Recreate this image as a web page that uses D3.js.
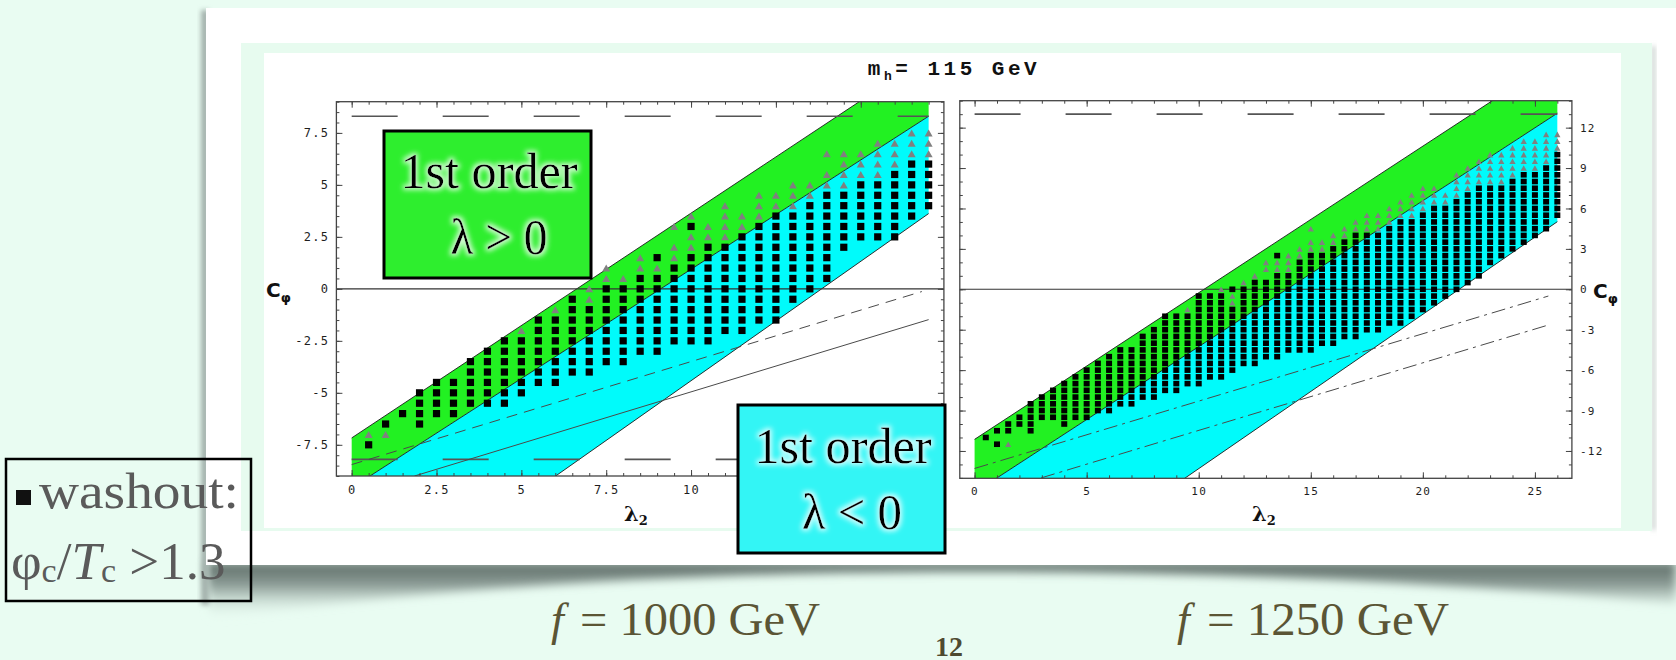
<!DOCTYPE html>
<html><head><meta charset="utf-8">
<script src="https://cdn.jsdelivr.net/npm/d3@7"></script>
<style>body{margin:0;background:#e9fcf2;}svg{display:block}</style>
</head><body>
<svg id="c" width="1676" height="660"></svg>
<script>
// ---------------- DATA ----------------
const title = ["m", "h", "= 115 GeV"];
const captions = [["f", "= 1000 GeV"], ["f", "= 1250 GeV"]];
const pageNumber = "12";

// left panel (f = 1000 GeV)
const leftXTicks = [0, 2.5, 5, 7.5, 10, 12.5, 15];
const leftXTickLabels = ["0", "2.5", "5", "7.5", "10", "12.5", "15"];
const leftYTicks = [-7.5, -5, -2.5, 0, 2.5, 5, 7.5];
const leftYTickLabels = ["-7.5", "-5", "-2.5", "0", "2.5", "5", "7.5"];
const leftGreenTop = [[0, -7.17], [17, 11.21]];
const leftGreenLow = [[0.54, -9], [17, 8.3]];
const leftCyanLow = [[6.01, -9], [17, 3.62]];
const leftDashed = [[0, -8.45], [16.8, -0.13]];
const leftSolid = [[1.85, -9], [17, -1.48]];
const leftHoriz = [8.3, -8.2];
const leftX = [0.5,1,1.5,2,2.5,3,3.5,4,4.5,5,5.5,6,6.5,7,7.5,8,8.5,9,9.5,10,10.5,11,11.5,12,12.5,13,13.5,14,14.5,15,15.5,16,16.5,17];
const leftSqLo = [-7.5,-6.5,-6,-6.5,-6,-6,-5.5,-5.5,-5.5,-5,-4.5,-4.5,-4,-4,-3.5,-3.5,-3,-3,-2.5,-2.5,-2.5,-2,-2,-1.5,-1.5,-0.5,0,0.5,2,2.5,2.5,2.5,3.5,4];
const leftSqHi = [-7.5,-6.5,-6,-5,-4.5,-4.5,-3.5,-3,-2.5,-2.5,-1.5,-1.5,-0.5,-1,0,0,0.5,0.5,1,1.5,2,2,2.5,3,3.5,3.5,4,4.5,4.5,5,5,5.5,6,6];
const leftTri = [[-7],[-7],[],[],[],[],[],[],[],[-2],[],[-1],[],[-0.5,0],[0.5,1],[0.5],[1,1.5],[1],[1.5,2,3],[2,2.5,3.5],[2.5,3],[2.5,3,3.5,4],[3,3.5],[3.5,4,4.5],[4,4.5],[4,4.5,5],[4.5,5],[5,5.5,6.5],[5,5.5,6,6.5],[5.5,6,6.5],[5.5,6,6.5,7],[6,6.5,7],[6.5,7,7.5],[6.5,7,7.5]];
const leftSqExtra = [[9, 1.5], [10, 3]];

// right panel (f = 1250 GeV)
const rightXTicks = [0, 5, 10, 15, 20, 25];
const rightXTickLabels = ["0", "5", "10", "15", "20", "25"];
const rightYTicks = [-12, -9, -6, -3, 0, 3, 6, 9, 12];
const rightYTickLabels = ["-12", "-9", "-6", "-3", "0", "3", "6", "9", "12"];
const rightGreenTop = [[0, -11.14], [23.1, 14]];
const rightGreenLow = [[1.0, -14], [26, 13.07]];
const rightCyanLow = [[9.4, -14], [26, 5.02]];
const rightDashDot1 = [[0, -13.3], [25.6, -0.5]];
const rightDashDot2 = [[2.97, -14], [25.6, -2.65]];
const rightHoriz = [13];
const rightX = [0.5,1,1.5,2,2.5,3,3.5,4,4.5,5,5.5,6,6.5,7,7.5,8,8.5,9,9.5,10,10.5,11,11.5,12,12.5,13,13.5,14,14.5,15,15.5,16,16.5,17,17.5,18,18.5,19,19.5,20,20.5,21,21.5,22,22.5,23,23.5,24,24.5,25,25.5,26];
const rightSqLo = [-11,-10.5,-10.5,-10,-10.5,-9.5,-9.5,-10,-9.5,-9.5,-9,-9,-8.5,-8.5,-8,-8,-7.5,-7.5,-7,-7,-6.5,-6.5,-6,-5.5,-5.5,-5,-5,-4.5,-4.5,-4.5,-4,-4,-3.5,-3.5,-3,-3,-2.5,-2.5,-2,-1.5,-1,-0.5,0,0.5,1,2,2.5,3,3.5,4,4.5,5.5];
const rightSqHi = [-11,-10.5,-10,-9.5,-8.5,-8,-7.5,-7,-6.5,-6,-5.5,-5,-4.5,-4.5,-3.5,-3,-2,-2,-2,-0.5,-0.5,-0.5,-1.5,0,0.5,0.5,1,1,2,2.5,2.5,3,3.5,4,4,4,4.5,5,5,5.5,6,6,6.5,7,7.5,7.5,7.5,8,8.5,8.5,9,10];
const rightTriLo = [null,null,-11.5,null,null,null,null,null,null,null,null,null,null,null,null,null,null,null,-1.5,null,null,0,-1,0.5,1,1.5,1.5,1.5,2.5,3,3,3.5,4,4.5,4.5,4.5,5,5.5,5.5,6,6.5,6.5,7,7.5,8,8,8,8.5,9,9,9.5,10.5];
const rightTriHi = [null,null,-11.5,null,null,null,null,null,null,null,null,null,null,null,null,null,null,null,-1.5,null,null,0,-0.5,0.5,1,2,2,2.5,3,3.5,3.5,4,4.5,5,5.5,5.5,6,6.5,7,7.5,7.5,7,8.5,9,9.5,10,10,10.5,11,11,11.5,11.5];
const rightSqExtra = [[1, -11.5], [11.5, 0], [13.5, 2.5]];
const rightTriExtra = [[15, 4.5]];

// ---------------- DRAWING ----------------
const svg = d3.select("#c");
const defs = svg.append("defs");
const glow = defs.append("filter").attr("id", "glow").attr("x", "-20%").attr("y", "-30%").attr("width", "140%").attr("height", "160%");
glow.append("feMorphology").attr("in", "SourceAlpha").attr("operator", "dilate").attr("radius", 1.5).attr("result", "d");
glow.append("feGaussianBlur").attr("in", "d").attr("stdDeviation", 2.5).attr("result", "b");
glow.append("feFlood").attr("flood-color", "#ffffff").attr("flood-opacity", 0.75);
glow.append("feComposite").attr("in2", "b").attr("operator", "in").attr("result", "g");
const gm = glow.append("feMerge"); gm.append("feMergeNode").attr("in", "g"); gm.append("feMergeNode").attr("in", "SourceGraphic");
defs.append("filter").attr("id", "blur6").attr("x", "-10%").attr("y", "-50%").attr("width", "120%").attr("height", "200%")
  .append("feGaussianBlur").attr("stdDeviation", 5);
defs.append("filter").attr("id", "blur2").attr("x", "-50%").attr("y", "-5%").attr("width", "200%").attr("height", "110%")
  .append("feGaussianBlur").attr("stdDeviation", 2.5);
const sg = defs.append("linearGradient").attr("id", "shadowGrad").attr("x1", 0).attr("y1", 0).attr("x2", 0).attr("y2", 1);
sg.append("stop").attr("offset", "0").attr("stop-color", "#5c6b66");
sg.append("stop").attr("offset", "0.4").attr("stop-color", "#8c9c96");
sg.append("stop").attr("offset", "1").attr("stop-color", "#e9fcf2").attr("stop-opacity", 0);

svg.append("rect").attr("width", 1676).attr("height", 660).attr("fill", "#e9fcf2");
// card shadows
svg.append("path").attr("d", "M206,562 L1676,562 L1676,604 Q1320,570 940,572 Q520,574 210,620 Z")
  .attr("fill", "url(#shadowGrad)").attr("filter", "url(#blur6)");
svg.append("rect").attr("x", 201).attr("y", 10).attr("width", 8).attr("height", 595).attr("fill", "#a3b1ac").attr("filter", "url(#blur2)");
svg.append("rect").attr("x", 206).attr("y", 8).attr("width", 1470).attr("height", 557).attr("fill", "#ffffff");
// inner image
svg.append("rect").attr("x", 1652).attr("y", 46).attr("width", 3).attr("height", 484).attr("fill", "#b9c4c0").attr("filter", "url(#blur2)");
svg.append("rect").attr("x", 241).attr("y", 43).attr("width", 1411).attr("height", 488).attr("fill", "#e7fbef");
svg.append("rect").attr("x", 264).attr("y", 53).attr("width", 1357).attr("height", 475).attr("fill", "#ffffff");

const seg = (s, xv) => s[0][1] + (s[1][1] - s[0][1]) * (xv - s[0][0]) / (s[1][0] - s[0][0]);

function panel(cfg, id) {
  const x = d3.scaleLinear().domain(cfg.xd).range(cfg.xr);
  const y = d3.scaleLinear().domain(cfg.yd).range(cfg.yr);
  const g = svg.append("g");
  defs.append("clipPath").attr("id", "clip" + id).append("rect")
    .attr("x", cfg.xr[0]).attr("y", cfg.yr[1]).attr("width", cfg.xr[1] - cfg.xr[0]).attr("height", cfg.yr[0] - cfg.yr[1]);
  const pg = g.append("g").attr("clip-path", `url(#clip${id})`);
  const line = d3.line().x(d => x(d[0])).y(d => y(d[1]));
  const xe = cfg.xEnd;
  const band = (a, b) => [[0, seg(a, 0)], [xe, seg(a, xe)], [xe, seg(b, xe)], [0, seg(b, 0)]];
  pg.append("path").attr("d", line(band(cfg.greenTop, cfg.greenLow)) + "Z").attr("fill", "#22f122");
  pg.append("path").attr("d", line(band(cfg.greenLow, cfg.cyanLow)) + "Z").attr("fill", "#00fbfb");
  [cfg.greenTop, cfg.greenLow, cfg.cyanLow].forEach(s => {
    pg.append("path").attr("d", line([[0, seg(s, 0)], [xe, seg(s, xe)]])).attr("stroke", "#1a1a1a").attr("stroke-width", 0.9).attr("fill", "none");
  });
  cfg.horiz.forEach(h => pg.append("path").attr("d", line([[0, h], [xe, h]]))
    .attr("stroke", "#555").attr("stroke-width", 1.6).attr("stroke-dasharray", "46,45").attr("fill", "none"));
  cfg.lines.forEach(l => pg.append("path").attr("d", line(l.pts)).attr("stroke", "#4a4a4a").attr("stroke-width", 1)
    .attr("stroke-dasharray", l.dash).attr("fill", "none"));
  pg.append("path").attr("d", line([[cfg.xd[0], 0], [cfg.xd[1], 0]])).attr("stroke", "#333").attr("stroke-width", 1.1);
  // points
  const s = cfg.sq, t = cfg.tri;
  pg.selectAll(".sq").data(cfg.squares).join("rect").attr("x", d => x(d[0]) - s[0] / 2).attr("y", d => y(d[1]) - s[1] / 2)
    .attr("width", s[0]).attr("height", s[1]).attr("fill", "#000");
  pg.selectAll(".tr").data(cfg.triangles).join("path")
    .attr("d", d => `M${x(d[0])},${y(d[1]) - t[1] / 2}L${x(d[0]) + t[0] / 2},${y(d[1]) + t[1] / 2}L${x(d[0]) - t[0] / 2},${y(d[1]) + t[1] / 2}Z`)
    .attr("fill", "#808080");
  // frame + ticks
  const fg = g.append("g");
  const style = sel => {
    sel.select(".domain").remove();
    sel.selectAll("line").attr("stroke", "#444").attr("stroke-width", 1);
    sel.selectAll("text").attr("font-family", "DejaVu Sans Mono").attr("font-size", cfg.fs).attr("letter-spacing", 1.3).attr("fill", "#1e1e1e");
  };
  const xMinor = d3.range(cfg.xMinor[0], cfg.xMinor[1] + 1e-9, cfg.xMinor[2]);
  const yMinor = d3.range(cfg.yMinor[0], cfg.yMinor[1] + 1e-9, cfg.yMinor[2]);
  const B = cfg.yr[0], T = cfg.yr[1], L = cfg.xr[0], R = cfg.xr[1];
  fg.append("g").attr("transform", `translate(0,${B})`).call(d3.axisBottom(x).tickValues(xMinor).tickSizeInner(-3).tickSizeOuter(0).tickFormat("")).call(style);
  fg.append("g").attr("transform", `translate(0,${T})`).call(d3.axisTop(x).tickValues(xMinor).tickSizeInner(-3).tickSizeOuter(0).tickFormat("")).call(style);
  fg.append("g").attr("transform", `translate(${L},0)`).call(d3.axisLeft(y).tickValues(yMinor).tickSizeInner(-3).tickSizeOuter(0).tickFormat("")).call(style);
  fg.append("g").attr("transform", `translate(${R},0)`).call(d3.axisRight(y).tickValues(yMinor).tickSizeInner(-3).tickSizeOuter(0).tickFormat("")).call(style);
  fg.append("g").attr("transform", `translate(0,${B})`).call(d3.axisBottom(x).tickValues(cfg.xTicks).tickFormat((d, i) => cfg.xLabels[i]).tickSizeInner(-6).tickSizeOuter(0).tickPadding(9)).call(style);
  fg.append("g").attr("transform", `translate(0,${T})`).call(d3.axisTop(x).tickValues(cfg.xTicks).tickFormat("").tickSizeInner(-6).tickSizeOuter(0)).call(style);
  fg.append("g").attr("transform", `translate(${L},0)`).call(d3.axisLeft(y).tickValues(cfg.yTicks).tickFormat((d, i) => cfg.leftLabels ? cfg.yLabels[i] : "").tickSizeInner(-6).tickSizeOuter(0).tickPadding(7)).call(style);
  fg.append("g").attr("transform", `translate(${R},0)`).call(d3.axisRight(y).tickValues(cfg.yTicks).tickFormat((d, i) => cfg.leftLabels ? "" : cfg.yLabels[i]).tickSizeInner(-6).tickSizeOuter(0).tickPadding(8)).call(style);
  fg.append("rect").attr("x", L).attr("y", T).attr("width", R - L).attr("height", B - T).attr("fill", "none").attr("stroke", "#444").attr("stroke-width", 1.3);
}

const expand = (xs, lo, hi) => xs.flatMap((xv, i) => lo[i] == null ? [] : d3.range(lo[i], hi[i] + 0.25, 0.5).map(yv => [xv, yv]));

panel({
  xd: [-0.45, 17.45], xr: [336.4, 943.9], yd: [-9, 9], yr: [476, 101.7], xEnd: 17,
  greenTop: leftGreenTop, greenLow: leftGreenLow, cyanLow: leftCyanLow, horiz: leftHoriz,
  lines: [{ pts: leftDashed, dash: "11,7" }, { pts: leftSolid, dash: null }],
  squares: expand(leftX, leftSqLo, leftSqHi).concat(leftSqExtra),
  triangles: leftX.flatMap((xv, i) => leftTri[i].map(yv => [xv, yv])),
  sq: [7.2, 7.2], tri: [8, 7],
  xTicks: leftXTicks, xLabels: leftXTickLabels, yTicks: leftYTicks, yLabels: leftYTickLabels, leftLabels: true,
  xMinor: [0, 17, 0.5], yMinor: [-9, 9, 0.5], fs: 12
}, "L");

panel({
  xd: [-0.66, 26.65], xr: [959.8, 1571.9], yd: [-14.03, 14.0], yr: [478.3, 100.7], xEnd: 26,
  greenTop: rightGreenTop, greenLow: rightGreenLow, cyanLow: rightCyanLow, horiz: rightHoriz,
  lines: [{ pts: rightDashDot1, dash: "14,5,3,5" }, { pts: rightDashDot2, dash: "14,5,3,5" }],
  squares: expand(rightX, rightSqLo, rightSqHi).concat(rightSqExtra),
  triangles: expand(rightX, rightTriLo, rightTriHi).concat(rightTriExtra),
  sq: [6, 5.6], tri: [6.2, 5.6],
  xTicks: rightXTicks, xLabels: rightXTickLabels, yTicks: rightYTicks, yLabels: rightYTickLabels, leftLabels: false,
  xMinor: [0, 26, 1], yMinor: [-14, 14, 1], fs: 11
}, "R");

// title and axis labels
const tt = svg.append("text").attr("x", 954).attr("y", 75).attr("text-anchor", "middle")
  .attr("font-family", "Liberation Mono").attr("font-weight", "bold").attr("font-size", 21).attr("letter-spacing", 3.5).attr("fill", "#111");
tt.append("tspan").text(title[0]);
tt.append("tspan").attr("font-size", 13).attr("dy", 5).text(title[1]);
tt.append("tspan").attr("dy", -5).text(title[2]);

function cphi(xp, yp) {
  const t = svg.append("text").attr("x", xp).attr("y", yp).attr("font-family", "DejaVu Sans").attr("font-weight", "bold").attr("font-size", 20).attr("fill", "#111");
  t.append("tspan").text("C");
  t.append("tspan").attr("font-size", 13).attr("dy", 5).text("φ");
}
cphi(266, 297); cphi(1593, 298);
function lam(xp, yp) {
  const t = svg.append("text").attr("x", xp).attr("y", yp).attr("text-anchor", "middle").attr("font-family", "DejaVu Serif").attr("font-weight", "bold").attr("font-size", 21).attr("fill", "#111");
  t.append("tspan").text("λ");
  t.append("tspan").attr("font-size", 13).attr("dy", 4).text("2");
}
lam(636, 521); lam(1264, 521);

// annotation boxes
function box(bx, by, bw, bh, fill, lines) {
  svg.append("rect").attr("x", bx).attr("y", by).attr("width", bw).attr("height", bh).attr("fill", fill).attr("stroke", "#000").attr("stroke-width", 3);
  lines.forEach(l => svg.append("text").attr("x", l[1]).attr("y", l[2]).attr("text-anchor", "middle")
    .attr("font-family", "Liberation Serif").attr("font-size", 50).attr("fill", "#000").attr("filter", "url(#glow)")
    .attr("textLength", l[3]).attr("lengthAdjust", "spacingAndGlyphs").text(l[0]));
}
box(384, 131, 207, 147, "#2eee2e", [["1st order", 489, 188, 177], ["λ > 0", 499, 254, 97]]);
box(738, 405, 207, 148, "#33f5f5", [["1st order", 843, 463, 177], ["λ < 0", 852, 529, 100]]);

// washout legend box
svg.append("rect").attr("x", 6).attr("y", 459).attr("width", 245).attr("height", 142).attr("fill", "none").attr("stroke", "#000").attr("stroke-width", 2.5);
svg.append("rect").attr("x", 16).attr("y", 490).attr("width", 15).attr("height", 15).attr("fill", "#111");
svg.append("text").attr("x", 39).attr("y", 508).attr("font-family", "Liberation Serif").attr("font-size", 50).attr("fill", "#5a5a5a")
  .attr("textLength", 200).attr("lengthAdjust", "spacingAndGlyphs").text("washout:");
const wt = svg.append("text").attr("x", 11).attr("y", 579).attr("font-family", "Liberation Serif").attr("font-size", 53).attr("fill", "#5a5a5a");
wt.append("tspan").text("φ");
wt.append("tspan").attr("font-size", 34).attr("dy", 3).text("c");
wt.append("tspan").attr("dy", -3).text("/");
wt.append("tspan").attr("font-style", "italic").text("T");
wt.append("tspan").attr("font-size", 34).attr("dy", 3).text("c");
wt.append("tspan").attr("dy", -3).text(" >1.3");

// captions
const capX = [[551, 580, 240], [1177, 1207, 242]];
captions.forEach((c, i) => {
  svg.append("text").attr("x", capX[i][0]).attr("y", 635).attr("font-family", "Liberation Serif").attr("font-style", "italic")
    .attr("font-size", 46).attr("fill", "#5b5535").text(c[0]);
  svg.append("text").attr("x", capX[i][1]).attr("y", 635).attr("font-family", "Liberation Serif")
    .attr("font-size", 46).attr("fill", "#5b5535").attr("textLength", capX[i][2]).attr("lengthAdjust", "spacingAndGlyphs").text(c[1]);
});
svg.append("text").attr("x", 949).attr("y", 656).attr("text-anchor", "middle").attr("font-family", "Liberation Serif")
  .attr("font-weight", "bold").attr("font-size", 28).attr("fill", "#4f4a30").text(pageNumber);
</script>
</body></html>
